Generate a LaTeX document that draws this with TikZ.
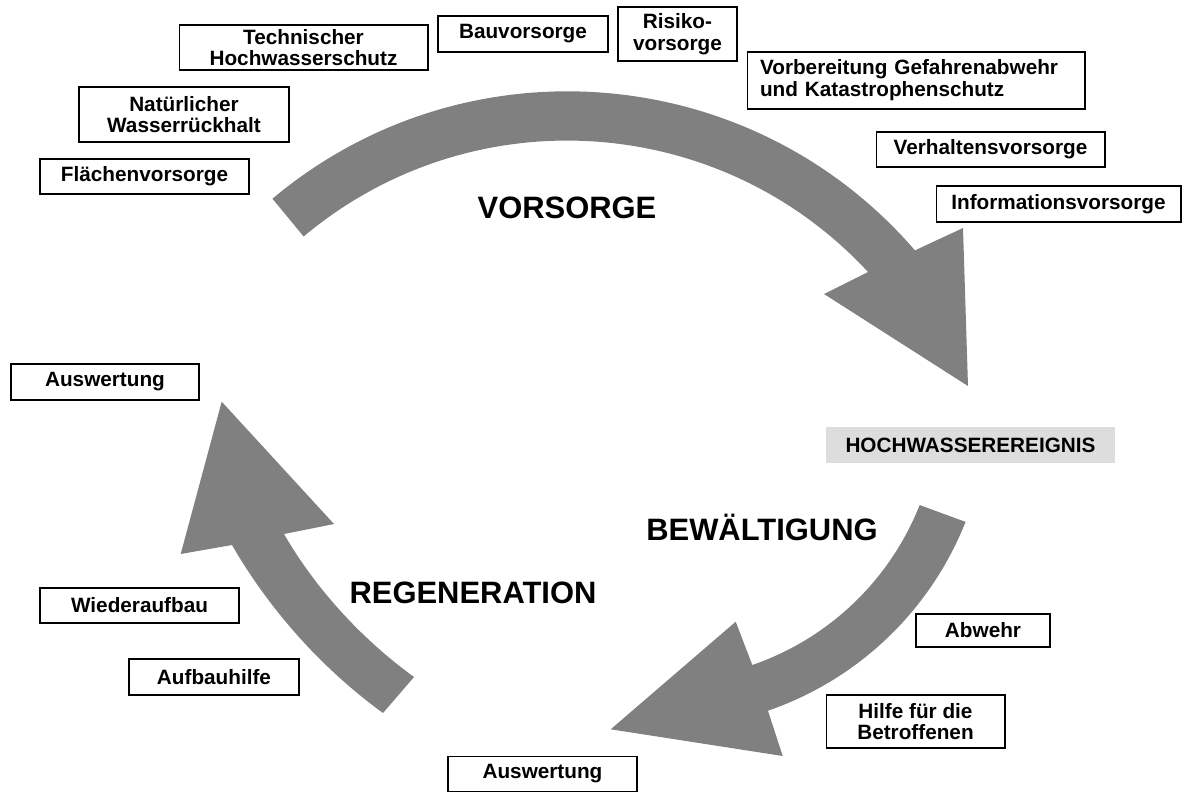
\documentclass[tikz,border=0pt]{standalone}
\usepackage{fontspec}
\setmainfont{Liberation Sans}
\definecolor{arrowgray}{HTML}{808080}
\definecolor{eventgray}{HTML}{DDDDDD}

\begin{document}
\begin{tikzpicture}[x=0.02cm,y=-0.02cm]
		\tikzset{box/.style = {draw, line width=0.6pt, inner sep=0pt, align=center, font=\fontsize{11.8}{12.4}\selectfont\bfseries}}
		\tikzset{phase/.style = {anchor=base, inner sep=0pt, font=\fontsize{17.6}{20}\selectfont\bfseries}}
		\tikzset{bigarrow/.style = {fill=arrowgray}}

		\useasboundingbox (0,0) rectangle (1183,791);

		% Vorsorge
		\coordinate (topc) at (567.5,550.3);
		\fill[bigarrow] (topc) ++(230:459) arc[start angle=230, end angle=319.2, radius=459]
			-- (963,228) -- (968,386) -- (824,294) -- (868,272)
			arc[start angle=317.2, end angle=230, radius=410] -- cycle;

		% Bewaeltigung
		\coordinate (botc) at (661.5,401.5);
		\fill[bigarrow] (botc) ++(21.6:327) arc[start angle=21.6, end angle=71, radius=327]
			-- (782.7,756) -- (610.7,729.3) -- (735.7,621.7) -- (752.3,665)
			arc[start angle=71, end angle=21.6, radius=277] -- cycle;

		% Regeneration
		\fill[bigarrow] (383,713) .. controls (322.3,668.9) and (269.5,610) .. (232,545)
			-- (180.7,554) -- (221.7,401.7) -- (334,524) -- (284,534)
			.. controls (316,589.4) and (362.2,639.4) .. (414,677) -- cycle;

		\node[phase] (vorsorge) at (567,218) {VORSORGE};
		\node[phase] (bewaeltigung) at (762,540) {BEWÄLTIGUNG};
		\node[phase] (regeneration) at (473,603) {REGENERATION};

		\node[box, minimum width=4.18cm, minimum height=0.70cm] (flaeche) at (144.5,176.5) {Flächenvorsorge};
		\node[box, minimum width=4.20cm, minimum height=1.10cm] (rueckhalt) at (184,114.5) {Natürlicher\\Wasserrückhalt};
		\node[box, minimum width=4.98cm, minimum height=0.90cm] (technik) at (303.5,47.5) {Technischer\\Hochwasserschutz};
		\node[box, minimum width=3.40cm, minimum height=0.72cm] (bau) at (523,34) {Bauvorsorge};
		\node[box, minimum width=2.38cm, minimum height=1.08cm] (risiko) at (677.5,34) {Risiko-\\vorsorge};
		\node[box, minimum width=6.76cm, minimum height=1.14cm, inner xsep=0.26cm, text width=6.24cm, align=left] (gefahr) at (916,80.5) {Vorbereitung Gefahrenabwehr\\und Katastrophenschutz};
		\node[box, minimum width=4.58cm, minimum height=0.70cm] (verhalten) at (990.5,149.5) {Verhaltensvorsorge};
		\node[box, minimum width=4.90cm, minimum height=0.72cm] (info) at (1058.5,204) {Informationsvorsorge};

		\node[box, draw=none, fill=eventgray, minimum width=5.78cm, minimum height=0.72cm] (ereignis) at (970.5,445) {HOCHWASSEREREIGNIS};

		\node[box, minimum width=2.68cm, minimum height=0.66cm] (abwehr) at (983,630.5) {Abwehr};
		\node[box, minimum width=3.58cm, minimum height=1.06cm] (hilfe) at (915.5,721.5) {Hilfe für die\\Betroffenen};
		\node[box, minimum width=3.78cm, minimum height=0.70cm] (auswertungb) at (542.5,774) {Auswertung};

		\node[box, minimum width=3.98cm, minimum height=0.70cm] (wiederaufbau) at (139.5,605.5) {Wiederaufbau};
		\node[box, minimum width=3.40cm, minimum height=0.72cm] (aufbauhilfe) at (214,677) {Aufbauhilfe};
		\node[box, minimum width=3.76cm, minimum height=0.72cm] (auswertungl) at (105,382) {Auswertung};

	\end{tikzpicture}
\end{document}
